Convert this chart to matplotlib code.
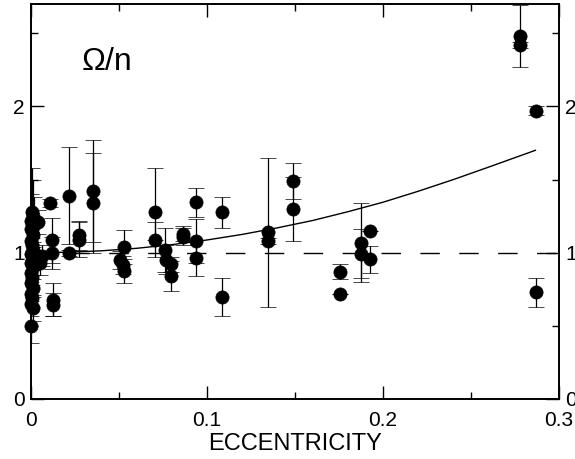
import numpy as np
import matplotlib
matplotlib.use('Agg')
import matplotlib.pyplot as plt
from matplotlib.ticker import MultipleLocator

plt.rcParams['font.family'] = ['Liberation Sans', 'DejaVu Sans']

# measured systems: eccentricity, Omega/n, lower / upper error
ecc = [0.0005, 0.001, 0.0, 0.0015, 0.0, 0.001, 0.0, 0.0005, 0.001, 0.0, 0.0015,
       0.0, 0.001, 0.0, 0.0005, 0.0, 0.001, 0.0, 0.0005, 0.0, 0.001, 0.0,
       0.004, 0.011, 0.0118, 0.0118, 0.006, 0.005, 0.0125, 0.0125,
       0.0216, 0.0216, 0.027, 0.027, 0.0352, 0.0352,
       0.0528, 0.0505, 0.052, 0.0528, 0.0705, 0.0705,
       0.0761, 0.0765, 0.0795, 0.0795, 0.0866, 0.0866,
       0.0938, 0.0938, 0.0938, 0.1085, 0.1085, 0.1347, 0.1347,
       0.149, 0.149, 0.1756, 0.1756, 0.1875, 0.1875, 0.1926, 0.1926,
       0.2778, 0.2778, 0.287, 0.287]
omega = [1.28, 1.25, 1.22, 1.19, 1.16, 1.12, 1.08, 1.05, 1.02, 0.99, 0.96,
         0.93, 0.90, 0.86, 0.83, 0.79, 0.76, 0.72, 0.69, 0.65, 0.62, 0.50,
         1.21, 1.34, 1.085, 1.0, 0.98, 0.93, 0.68, 0.645,
         1.39, 1.0, 1.12, 1.09, 1.42, 1.34,
         1.04, 0.95, 0.915, 0.875, 1.28, 1.09,
         1.016, 0.952, 0.92, 0.84, 1.13, 1.11,
         1.345, 1.08, 0.963, 1.275, 0.70, 1.14, 1.08,
         1.49, 1.30, 0.87, 0.72, 1.068, 0.993, 1.145, 0.954,
         2.48, 2.42, 1.97, 0.73]
err_lo = [0.30, 0.25, 0.18, 0.19, 0.10, 0.08, 0.06, 0.05, 0.05, 0.05, 0.06,
          0.05, 0.05, 0.06, 0.05, 0.05, 0.06, 0.05, 0.06, 0.08, 0.09, 0.12,
          0.08, 0.03, 0.155, 0.11, 0.07, 0.08, 0.11, 0.08,
          0.33, 0.02, 0.10, 0.12, 0.35, 0.34,
          0.115, 0.06, 0.06, 0.085, 0.19, 0.12,
          0.15, 0.10, 0.05, 0.10, 0.05, 0.06,
          0.10, 0.15, 0.125, 0.105, 0.13, 0.51, 0.02,
          0.125, 0.22, 0.05, 0.0, 0.27, 0.166, 0.0, 0.09,
          0.21, 0.02, 0.03, 0.10]
err_hi = [0.30, 0.25, 0.18, 0.19, 0.10, 0.08, 0.06, 0.05, 0.05, 0.05, 0.06,
          0.05, 0.05, 0.06, 0.05, 0.05, 0.06, 0.05, 0.06, 0.08, 0.09, 0.12,
          0.08, 0.03, 0.155, 0.11, 0.07, 0.08, 0.11, 0.08,
          0.33, 0.02, 0.10, 0.12, 0.35, 0.34,
          0.115, 0.06, 0.06, 0.085, 0.30, 0.12,
          0.15, 0.10, 0.05, 0.10, 0.05, 0.06,
          0.10, 0.15, 0.125, 0.105, 0.13, 0.51, 0.02,
          0.125, 0.22, 0.05, 0.0, 0.27, 0.166, 0.0, 0.09,
          0.21, 0.02, 0.03, 0.10]

# pseudo-synchronous curve
curve_e = [0.0, 0.02, 0.04, 0.06, 0.08, 0.10, 0.12, 0.14, 0.16, 0.18, 0.20,
           0.22, 0.24, 0.26, 0.2866]
curve_w = [1.0, 1.003, 1.013, 1.03, 1.055, 1.087, 1.125, 1.17, 1.22, 1.28,
           1.345, 1.42, 1.50, 1.585, 1.70]

xtick_vals = [0, 0.1, 0.2, 0.3]
xtick_labels = ['0', '0.1', '0.2', '0.3']
ytick_vals = [0, 1, 2]
ytick_labels = ['0', '1', '2']

fig = plt.figure(figsize=(5.75, 4.59), dpi=100)
ax = fig.add_axes([31/575, 60/459, 528/575, 395/459])

ax.axhline(1.0, color='k', lw=1.0, dashes=(14, 14))
ax.plot(curve_e, curve_w, color='k', lw=1.0)
eb = ax.errorbar(ecc, omega, yerr=[err_lo, err_hi], fmt='o', color='k', ms=9.5,
                 mew=0.5, ecolor='k', elinewidth=0.9, capsize=6, capthick=0.9)
eb[0].set_clip_on(False)

ax.text(0.029, 2.25, 'Ω/n', fontsize=23)

ax.set_xlim(0, 0.3)
ax.set_ylim(0, 2.7)
ax.set_xticks(xtick_vals)
ax.set_xticklabels(xtick_labels)
ax.set_yticks(ytick_vals)
ax.set_yticklabels(ytick_labels)
ax.xaxis.set_minor_locator(MultipleLocator(0.05))
ax.yaxis.set_minor_locator(MultipleLocator(0.5))
ax.tick_params(which='both', direction='in', top=True, right=True,
               labelright=True, width=1.0, labelsize=15)
ax.tick_params(which='major', length=9.5)
ax.tick_params(which='minor', length=5)
ax.tick_params(axis='x', pad=9)
ax.tick_params(axis='y', pad=4.5)
for s in ax.spines.values():
    s.set_linewidth(1.4)

ax.set_xlabel('ECCENTRICITY', fontsize=17, labelpad=2)

fig.savefig('out.png', dpi=100)
